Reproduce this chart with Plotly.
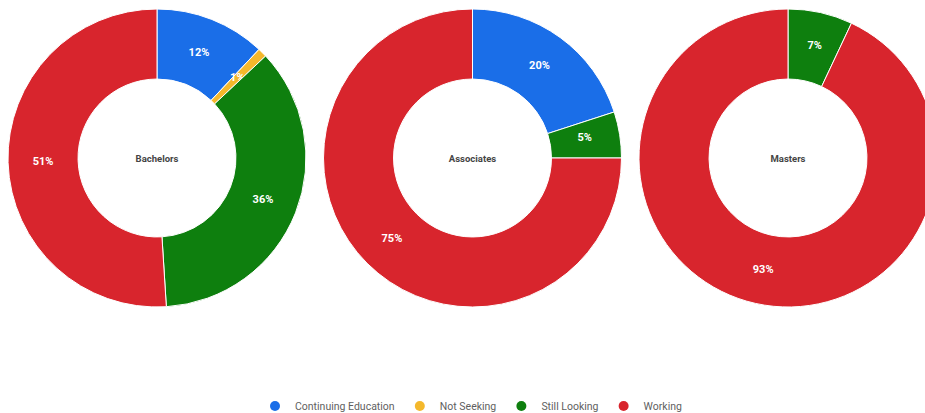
import plotly.graph_objects as go

categories = ["Continuing Education", "Not Seeking", "Still Looking", "Working"]
colors = {"Continuing Education": "#1a6ee8", "Not Seeking": "#f4b82c",
          "Still Looking": "#0e7f0e", "Working": "#d8252d"}

groups = ["Bachelors", "Associates", "Masters"]
bachelors_values = [12, 1, 36, 51]
associates_values = [20, 0, 5, 75]
masters_values = [0, 0, 7, 93]
all_values = [bachelors_values, associates_values, masters_values]

W, H = 940, 413
# pixel domains for each donut (figure coordinates)
x_px = [(8, 306), (323.5, 621.5), (639, 937)]
y_dom = [1 - 307 / H, 1 - 9 / H]

NB = "\u00a0"
# label padding (blank lines above, trailing spaces) so that narrow-slice labels
# sit at mid-ring like the reference
label_pad = {("Bachelors", "Not Seeking"): (3, 16),
             ("Associates", "Still Looking"): (0, 11),
             ("Masters", "Still Looking"): (1, 0)}


def template(group, cat):
    top, right = label_pad.get((group, cat), (0, 0))
    return (NB + "<br>") * top + "<b>%{percent:.0%}</b>" + NB * right


fig = go.Figure()
for g, vals, (x0, x1) in zip(groups, all_values, x_px):
    labs = [c for c, v in zip(categories, vals) if v > 0]
    vs = [v for v in vals if v > 0]
    fig.add_trace(go.Pie(
        labels=labs, values=vs, hole=0.53, sort=False, direction="clockwise",
        rotation=0,
        marker=dict(colors=[colors[l] for l in labs], line=dict(color="white", width=1)),
        textposition="inside", insidetextorientation="horizontal",
        texttemplate=[template(g, l) for l in labs],
        textfont=dict(color="white", size=11, family="Roboto"),
        title=dict(text="<b>" + g + "</b>", position="middle center",
                   font=dict(size=9.5, color="#444444", family="Roboto")),
        domain=dict(x=[x0 / W, min(x1 / W, 1)], y=y_dom),
        showlegend=False, hoverinfo="none",
    ))

for c in categories:
    fig.add_trace(go.Scatter(x=[None], y=[None], mode="markers", name=c,
                             marker=dict(symbol="circle", size=10, color=colors[c])))

fig.update_layout(
    width=W, height=H, margin=dict(l=0, r=0, t=0, b=0, autoexpand=False),
    paper_bgcolor="white", plot_bgcolor="white",
    xaxis=dict(visible=False), yaxis=dict(visible=False),
    hovermode=False,
    uniformtext=dict(minsize=11, mode="show"),
    legend=dict(orientation="h", x=255 / W, xanchor="left", y=(H - 406) / H, yanchor="middle",
                font=dict(size=10.5, color="#5f5f5f", family="Roboto"), itemwidth=30),
    font=dict(family="Roboto"),
)
fig.write_html(
    "out.html",
    config={"displayModeBar": False},
    post_script="document.body.style.margin='0';"
                "document.documentElement.style.overflow='hidden';"
                "document.body.style.overflow='hidden';",
)
